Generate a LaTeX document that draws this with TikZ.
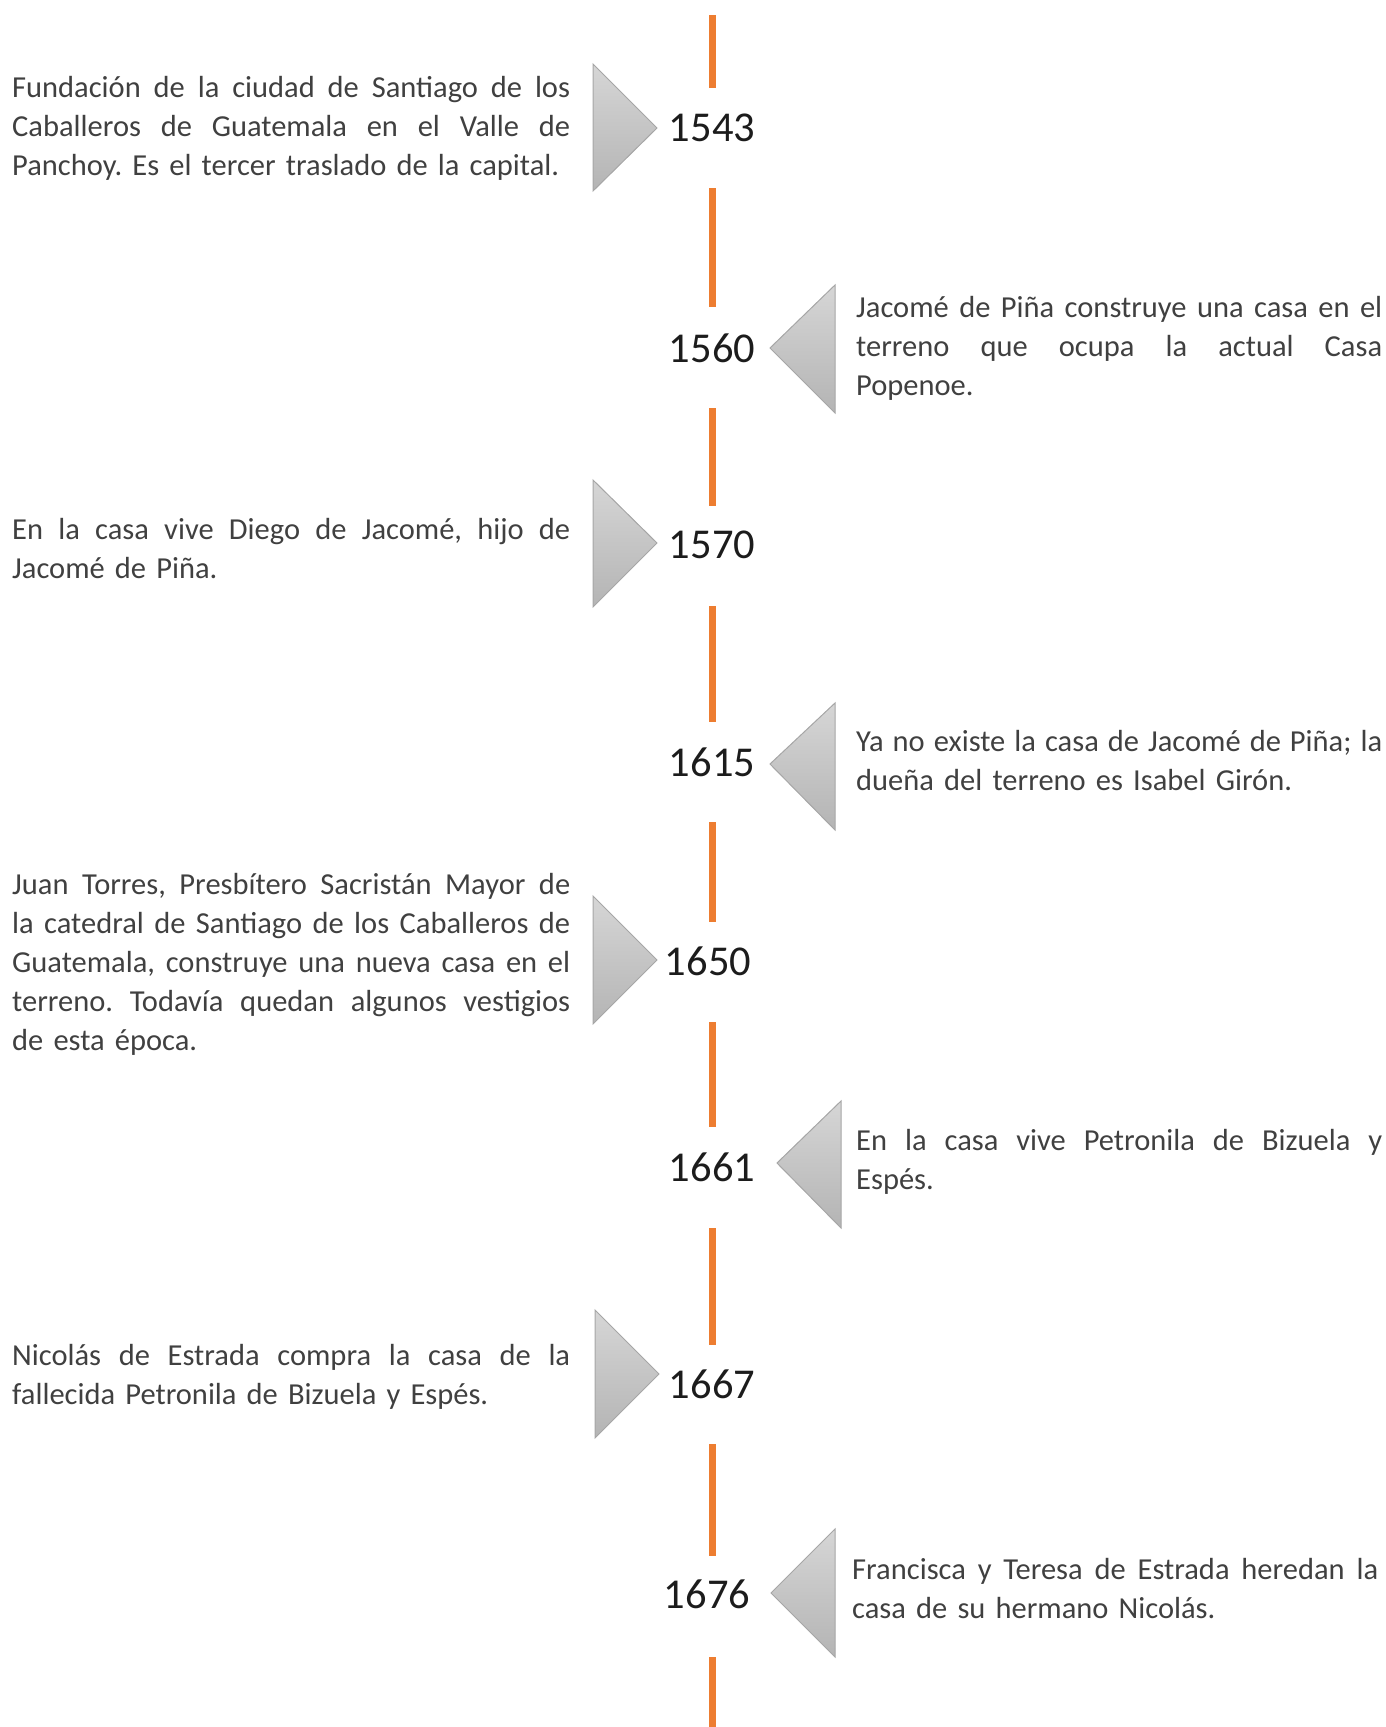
\documentclass[tikz,border=0pt]{standalone}
\usepackage{fontspec}
\setmainfont{Carlito}
\frenchspacing
\definecolor{tlorange}{HTML}{ED7D31}
\definecolor{txtgray}{HTML}{404040}
\definecolor{yeargray}{HTML}{1C1C1C}
\definecolor{tribord}{HTML}{A6A6A6}
\definecolor{tritop}{HTML}{D6D6D6}
\definecolor{tribot}{HTML}{B4B4B4}
\newcommand\jsp{\spaceskip=\fontdimen2\font plus 1fil minus 0.45\fontdimen2\font\relax}
\newcommand\jl[1]{\leavevmode\hbox to 558pt{\jsp #1}}
\newcommand\jr[1]{\leavevmode\hbox to 526pt{\jsp #1}}
\newcommand\bodyfont{\fontsize{30.5}{39}\selectfont\frenchspacing}
\tikzset{
  seg/.style={draw=tlorange, line width=7pt},
  tri/.style={draw=tribord, line width=1pt, top color=tritop, bottom color=tribot},
  year/.style={font=\fontsize{42.5}{50}\selectfont, text=yeargray, inner sep=0pt},
  ltxt/.style={font=\bodyfont, text=txtgray, inner sep=0pt, text width=558pt, align=left, anchor=west},
  rtxt/.style={font=\bodyfont, text=txtgray, inner sep=0pt, text width=526pt, align=left, anchor=west},
}
\begin{document}
\begin{tikzpicture}[x=1pt,y=-1pt]
\useasboundingbox (0,0) rectangle (1386,1727);
% orange timeline segments
\draw[seg] (712,15) -- (712,88);
\draw[seg] (712,188) -- (712,307);
\draw[seg] (712,408) -- (712,506);
\draw[seg] (712,606) -- (712,722);
\draw[seg] (712,822) -- (712,922);
\draw[seg] (712,1022) -- (712,1127);
\draw[seg] (712,1228) -- (712,1345);
\draw[seg] (712,1444) -- (712,1556);
\draw[seg] (712,1657) -- (712,1727);
% triangles
\draw[tri] (593,64) -- (657,128) -- (593,191) -- cycle;
\draw[tri] (835,285) -- (770,348) -- (835,413) -- cycle;
\draw[tri] (593,480) -- (657,543) -- (593,607) -- cycle;
\draw[tri] (835,703) -- (770,764) -- (835,830) -- cycle;
\draw[tri] (593,896) -- (657,960) -- (593,1024) -- cycle;
\draw[tri] (841,1101) -- (777,1163) -- (841,1228) -- cycle;
\draw[tri] (595,1310) -- (659,1374) -- (595,1438) -- cycle;
\draw[tri] (835,1529) -- (771,1593) -- (835,1657) -- cycle;
% years
\node[year] (y1543) at (712,128) {1543};
\node[year] (y1560) at (712,348) {1560};
\node[year] (y1570) at (712,545) {1570};
\node[year] (y1615) at (712,762) {1615};
\node[year] (y1650) at (708,961) {1650};
\node[year] (y1661) at (712,1167) {1661};
\node[year] (y1667) at (712,1384) {1667};
\node[year] (y1676) at (707,1594) {1676};
% texts
\node[ltxt] (t1543) at (12,128) {\jl{Fundación de la ciudad de Santiago de los}\\\jl{Caballeros de Guatemala en el Valle de}\\Panchoy. Es el tercer traslado de la capital.};
\node[rtxt] (t1560) at (856,348) {\jr{Jacomé de Piña construye una casa en el}\\\jr{terreno que ocupa la actual Casa}\\Popenoe.};
\node[ltxt] (t1570) at (12,549) {\jl{En la casa vive Diego de Jacomé, hijo de}\\Jacomé de Piña.};
\node[rtxt] (t1615) at (856,761) {\jr{Ya no existe la casa de Jacomé de Piña; la}\\dueña del terreno es Isabel Girón.};
\node[ltxt] (t1650) at (12,964) {\jl{Juan Torres, Presbítero Sacristán Mayor de}\\\jl{la catedral de Santiago de los Caballeros de}\\\jl{Guatemala, construye una nueva casa en el}\\\jl{terreno. Todavía quedan algunos vestigios}\\de esta época.};
\node[rtxt] (t1661) at (856,1162) {\jr{En la casa vive Petronila de Bizuela y}\\Espés.};
\node[ltxt] (t1667) at (12,1377) {\jl{Nicolás de Estrada compra la casa de la}\\fallecida Petronila de Bizuela y Espés.};
\node[rtxt] (t1676) at (852,1589) {\jr{Francisca y Teresa de Estrada heredan la}\\casa de su hermano Nicolás.};
\end{tikzpicture}
\end{document}
